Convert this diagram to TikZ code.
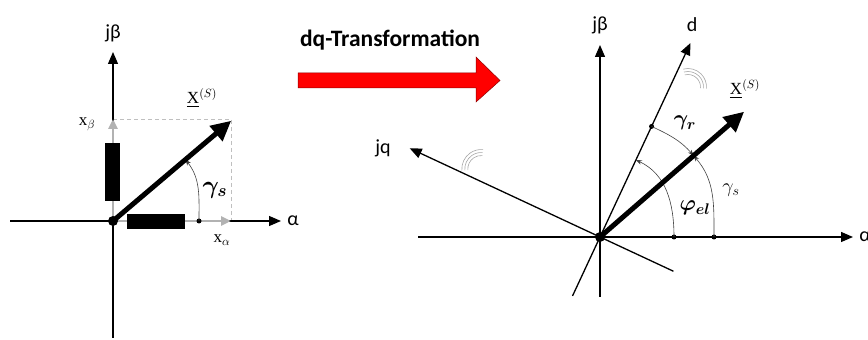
\RequirePackage{fix-cm}
\documentclass[tikz,border=0pt]{standalone}
\usepackage{amsmath,amssymb,bm}
\usepackage{fontspec}
\newfontfamily\calfont{Carlito}
\newfontfamily\tmsfont{Liberation Serif}
\usetikzlibrary{arrows.meta,calc}

\begin{document}
\begin{tikzpicture}[x=1pt,y=1pt]
\tikzset{
  axisline/.style={draw=black,line width=1.3pt,-{Triangle[length=12pt,width=10pt]}},
  plainline/.style={draw=black,line width=1.3pt},
  compline/.style={draw=black!30,line width=2.6pt,-{Triangle[length=10pt,width=9pt]}},
  projline/.style={draw=black!25,line width=0.8pt,dash pattern=on 4pt off 3pt},
  phasor/.style={draw=black,line width=5pt,-{Triangle[length=20pt,width=19pt]}},
  anglearc/.style={draw=black!75,line width=0.6pt,-{Stealth[length=6pt,width=4.5pt]}},
  rotmark/.style={draw=black!35,line width=0.6pt},
  bigdot/.style={circle,fill=black,inner sep=0pt,minimum size=10pt},
  smalldot/.style={circle,fill=black,inner sep=0pt,minimum size=5pt},
  axislabel/.style={font=\calfont\fontsize{20}{22}\selectfont,inner sep=1pt},
  mathlabel/.style={font=\tmsfont\fontsize{17}{19}\selectfont,inner sep=1pt},
  anglelabel/.style={font=\fontsize{22}{24}\selectfont,inner sep=1pt},
  bar/.style={fill=black}
}
\useasboundingbox (0,0) rectangle (868,340);
\coordinate (l_O) at (113,119);
\coordinate (l_south) at (113,2);
\coordinate (l_north) at (113,288);
\coordinate (l_west) at (10,119);
\coordinate (l_east) at (281,119);
\coordinate (l_xb) at (113,221);
\coordinate (l_xa) at (231,119);
\coordinate (l_corner) at (231,221);
\coordinate (l_tip) at ($(l_O)+(40.3:155)$);
\coordinate (l_arcend) at ($(l_O)+(40.3:95)$);
\draw[projline] (l_xb) -- (l_corner) -- (l_xa);
\draw[axisline] (l_south) -- (l_north);
\draw[axisline] (l_west) -- (l_east);
\draw[compline] (l_O) -- (l_xb);
\draw[compline] (l_O) -- (l_xa);
\fill[bar] (105,139) rectangle (120,197);
\fill[bar] (127,111) rectangle (185,126);
\node[smalldot] (n_dotL) at (199,119) {};
\draw[anglearc] (n_dotL.center) to[out=90,in=-52] (l_arcend);
\draw[phasor] (l_O) -- (l_tip);
\node[bigdot] (n_OL) at (l_O) {};
\node[axislabel] (n_jbL) at (113,307) {jβ};
\node[axislabel] (n_alphaL) at (293,119) {α};
\node[mathlabel] (n_XL) at (202,242) {\underline{X}$^{(S)}$};
\node[mathlabel] (n_xb) at (87,216) {x$_{\beta}$};
\node[mathlabel] (n_xa) at (222,100) {x$_{\alpha}$};
\node[anglelabel,font=\fontsize{25}{27}\selectfont] (n_gsL) at (215,150) {$\bm{\gamma_s}$};
\node[font=\calfont\bfseries\fontsize{23.5}{26}\selectfont] (n_title) at (390,300) {dq-Transformation};
\draw[fill=red,draw=red!55!black,line width=0.5pt] (298,252) -- (476,252) -- (476,238) -- (500,259.5) -- (476,283) -- (476,267) -- (298,267) -- cycle;
\coordinate (r_O) at (600,103);
\coordinate (r_south) at (600,43);
\coordinate (r_north) at (600,295);
\coordinate (r_west) at (418,103);
\coordinate (r_east) at (853,103);
\coordinate (r_dlow) at ($(r_O)+(245:65)$);
\coordinate (r_dtip) at ($(r_O)+(65:214)$);
\coordinate (r_qlow) at ($(r_O)+(-25:81)$);
\coordinate (r_qtip) at ($(r_O)+(155:210)$);
\coordinate (r_tip) at ($(r_O)+(41:191)$);
\coordinate (r_phiend) at ($(r_O)+(65:85)$);
\coordinate (r_gsend) at ($(r_O)+(41:124)$);
\coordinate (r_dmark) at (688,253);
\coordinate (r_qmark) at (481.3,171);
\draw[axisline] (r_south) -- (r_north);
\draw[axisline] (r_west) -- (r_east);
\draw[axisline] (r_dlow) -- (r_dtip);
\draw[axisline] (r_qlow) -- (r_qtip);
\foreach \r in {12.5,15.5,18.5} {
  \draw[rotmark] (r_dmark) ++(105:\r) arc[start angle=105,end angle=-5,radius=\r];
  \draw[rotmark] (r_qmark) ++(185:\r+1) arc[start angle=185,end angle=85,radius=\r+1];
}
\node[smalldot] (n_dot1) at (674,103) {};
\node[smalldot] (n_dot2) at (714,103) {};
\node[smalldot] (n_dot3) at ($(r_O)+(65:122)$) {};
\draw[anglearc] (n_dot1.center) to[out=90,in=-25] (r_phiend);
\draw[anglearc] (n_dot2.center) to[out=90,in=-49] (r_gsend);
\draw[anglearc] (n_dot3.center) to[out=-25,in=131] (r_gsend);
\draw[phasor] (r_O) -- (r_tip);
\node[bigdot] (n_OR) at (r_O) {};
\node[axislabel] (n_jbR) at (600,315) {jβ};
\node[axislabel] (n_d) at (692,315) {d};
\node[axislabel] (n_jq) at (383,192) {jq};
\node[axislabel] (n_alphaR) at (865,103) {α};
\node[mathlabel] (n_XR) at (745,251) {\underline{X}$^{(S)}$};
\node[anglelabel] (n_gr) at (685,217) {$\bm{\gamma_r}$};
\node[anglelabel] (n_phi) at (695,132) {$\bm{\varphi_{el}}$};
\node[anglelabel,font=\fontsize{20}{22}\selectfont] (n_gsR) at (731,150) {$\gamma_s$};
\end{tikzpicture}
\end{document}
